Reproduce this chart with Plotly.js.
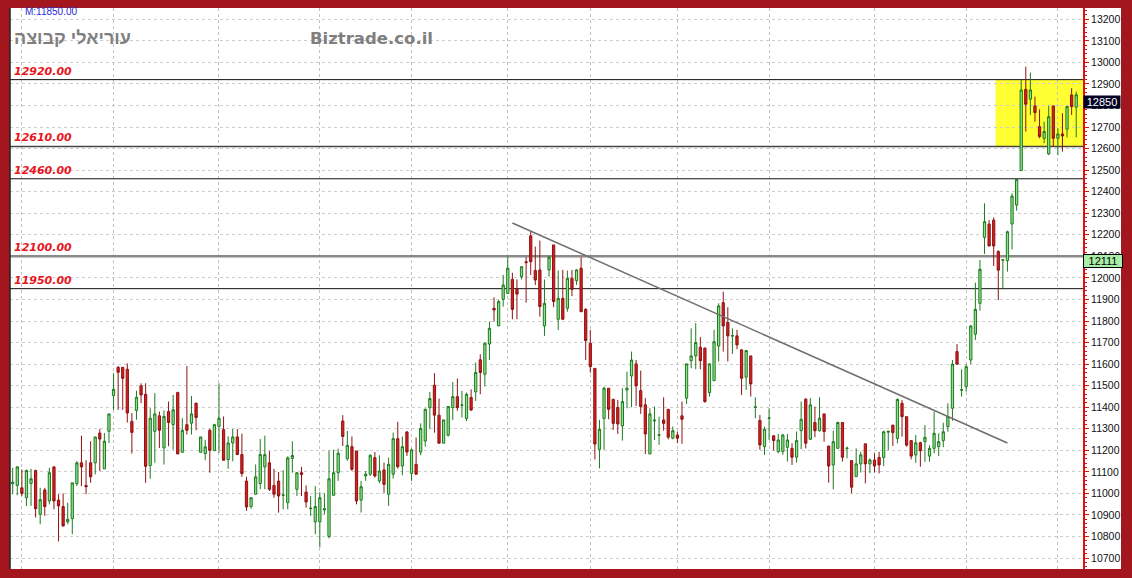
<!DOCTYPE html>
<html><head><meta charset="utf-8">
<script src="https://cdn.plot.ly/plotly-3.0.1.min.js"></script>
<style>html,body{margin:0;padding:0;background:#a3161d;} #chart{width:1132px;height:578px;}</style>
</head><body><div id="chart"></div>
<script>
// ---- DATA ----
const openP = [11045,11037,11026,10980,11046,11106,10903,11016,10965,11123,10969,10939,10868,10883,11045,11142,11037,11142,11142,11280,
11114,11288,11454,11585,11585,11576,11334,11385,11499,11460,11129,11288,11360,11211,11380,11319,11468,11191,11319,11326,
11419,11191,11185,11293,11199,11311,11296,11157,11234,11262,11180,11057,10939,10996,11046,11123,11142,11037,11057,10991,
10957,11162,11019,11096,11006,10929,10868,10868,10923,10800,10991,11096,11336,11161,11217,11197,10969,11081,11089,11166,
11058,11109,10996,11089,11254,11127,11285,11093,11135,11192,11243,11398,11502,11363,11233,11270,11398,11449,11409,11347,
11445,11471,11620,11553,11693,11859,11777,11901,11928,11993,11947,12006,12075,12195,12034,12037,11777,12037,12153,11808,
11905,11859,11998,11987,12045,11854,11697,11580,11205,11348,11488,11437,11399,11313,11480,11545,11601,11477,11411,11183,
11336,11270,11341,11390,11256,11271,11360,11442,11616,11638,11678,11674,11468,11523,11684,11885,11793,11730,11731,11666,
11539,11638,11399,11338,11217,11348,11267,11194,11194,11214,11209,11168,11291,11437,11251,11329,11291,11369,11220,11132,
11209,11329,11208,11152,11078,11137,11230,11137,11155,11167,11167,11284,11317,11255,11418,11356,11245,11178,11235,11240,
11173,11209,11217,11245,11310,11395,11658,11479,11495,11619,11739,11882,12188,12250,12268,12122,12082,12080,12250,12338,
12498,12875,12829,12798,12702,12648,12575,12798,12648,12668,12690,12849,12792];
const highP = [11119,11126,11111,11111,11114,11110,11026,11026,11119,11126,10996,11000,10957,11049,11149,11268,11154,11242,11262,11299,
11280,11369,11557,11591,11585,11603,11373,11477,11511,11511,11395,11465,11380,11385,11426,11457,11472,11349,11591,11452,
11419,11262,11249,11299,11323,11511,11357,11265,11299,11299,11277,11077,10980,11134,11252,11268,11196,11114,11099,11108,
11172,11242,11096,11123,11037,10988,11034,11006,11000,11199,11203,11208,11363,11290,11264,11197,11058,11104,11181,11192,
11177,11143,11166,11282,11332,11264,11290,11208,11259,11325,11394,11471,11558,11440,11341,11403,11517,11533,11476,11468,
11483,11607,11646,11700,11797,11910,11898,12014,12099,12024,11993,12052,12096,12215,12145,12173,11993,12102,12153,12034,
12037,12034,12037,12040,12096,11859,11758,11580,11341,11495,11488,11437,11434,11488,11565,11658,11619,11570,11442,11395,
11403,11356,11446,11390,11310,11287,11426,11601,11766,11790,11725,11678,11604,11759,11882,11936,11864,11766,11759,11669,
11663,11638,11446,11364,11310,11395,11271,11276,11276,11276,11233,11287,11426,11442,11442,11403,11446,11369,11220,11291,
11333,11329,11217,11155,11209,11194,11230,11163,11186,11193,11291,11291,11317,11441,11433,11356,11245,11271,11240,11317,
11224,11379,11279,11328,11418,11619,11693,11576,11600,11781,11978,12083,12346,12268,12281,12129,12086,12219,12392,12462,
12920,12980,12953,12841,12782,12725,12798,12798,12694,12764,12798,12880,12864];
const lowP = [10996,10991,10988,10942,10942,10888,10857,10896,10949,10926,10777,10846,10857,10811,11034,11034,10996,11049,11088,11103,
11114,11234,11388,11388,11388,11329,11185,11342,11419,11049,11068,11142,11211,11134,11219,11203,11183,11191,11273,11273,
11293,11191,11154,11096,11196,11188,11154,11114,11149,11180,11077,10919,10929,10996,11019,11019,11011,10980,10911,10926,
10926,11096,10988,10988,10934,10896,10811,10749,10903,10791,10991,11058,11220,11151,11104,10949,10911,11058,11081,11073,
11047,11003,10942,11069,11115,11084,11174,11058,11089,11177,11217,11298,11282,11233,11233,11264,11341,11383,11352,11336,
11383,11429,11460,11496,11619,11797,11777,11867,11928,11808,11808,11993,11885,12014,11967,11820,11731,12006,11864,11758,
11808,11843,11916,11967,11843,11619,11560,11158,11116,11202,11344,11294,11276,11245,11395,11400,11406,11369,11183,11183,
11248,11225,11291,11251,11251,11233,11230,11415,11581,11576,11576,11421,11449,11523,11612,11658,11612,11647,11669,11457,
11480,11449,11349,11202,11179,11248,11199,11186,11179,11148,11132,11143,11205,11209,11248,11261,11287,11240,11050,11019,
11209,11148,11163,11001,11078,11097,11047,11094,11097,11093,11127,11201,11220,11232,11263,11217,11158,11142,11124,11147,
11147,11186,11173,11214,11286,11337,11596,11449,11472,11600,11712,11848,12111,12148,12055,11897,11947,12029,12132,12312,
12498,12679,12756,12725,12648,12625,12570,12609,12570,12586,12652,12756,12652];
const closeP = [11052,11123,11000,11106,11068,10929,10971,10939,11096,10965,10942,10849,10880,11049,11142,11123,11031,11077,11262,11252,
11242,11369,11483,11562,11534,11373,11283,11446,11457,11126,11349,11369,11293,11357,11329,11388,11183,11293,11293,11369,
11352,11262,11216,11200,11319,11349,11154,11234,11262,11180,11092,10937,10980,11077,11180,11180,11019,10996,10988,10993,
11165,11176,11096,11088,10960,10931,10939,10980,10929,11068,11096,11186,11264,11223,11112,10965,11031,11089,11177,11081,
11104,11042,11135,11254,11124,11217,11192,11202,11089,11301,11390,11440,11363,11233,11341,11403,11449,11398,11410,11460,
11387,11561,11561,11697,11766,11851,11890,11967,12045,11854,11925,12052,12071,12075,11990,11867,11882,12096,11890,11905,
11808,11998,11947,12037,11843,11709,11588,11229,11297,11488,11390,11325,11322,11426,11488,11619,11499,11403,11276,11369,
11340,11272,11325,11261,11291,11256,11344,11601,11638,11700,11616,11426,11601,11704,11870,11777,11731,11732,11689,11534,
11663,11508,11401,11225,11298,11350,11245,11248,11271,11248,11168,11245,11344,11233,11411,11291,11349,11287,11127,11240,
11329,11168,11210,11029,11137,11179,11137,11155,11127,11132,11286,11288,11282,11436,11356,11224,11173,11235,11198,11260,
11209,11279,11240,11286,11356,11600,11600,11481,11588,11777,11854,12040,12261,12148,12148,12036,12084,12214,12380,12457,
12872,12806,12872,12767,12656,12679,12748,12648,12668,12659,12795,12795,12850];
const levels = [12920, 12610, 12460, 12100, 11950];
const monthStartIdx = [2, 22, 45, 67, 87, 108, 126, 145, 165, 188, 208, 228];
const trendIdx = [109, 217];
const trendVal = [12255, 11234];
const zoneStartIdx = 214.4;
const zoneBounds = [12610, 12920];
const maValue = 12111;
const maxLabel = 'M:11850.00';
const titleHebrew = 'עוריאלי קבוצה';
const titleSite = 'Biztrade.co.il';

// ---- CHART ----
const idx = openP.map((_, i) => i);
const n = idx.length;

const trace = {
  type: 'candlestick', x: idx, open: openP, high: highP, low: lowP, close: closeP,
  increasing: {line: {color: '#1f7a1f', width: 1}, fillcolor: '#8ee48e'},
  decreasing: {line: {color: '#8e1212', width: 1}, fillcolor: '#d81e1e'},
  whiskerwidth: 0, hoverinfo: 'skip'
};

const levelColors = ['#111111', '#444444', '#111111', '#8a8a8a', '#111111'];
const levelWidths = [1, 1.5, 1, 2.5, 1];

const shapes = [
  {type: 'rect', xref: 'paper', yref: 'paper', x0: 1, x1: 1.0354, y0: 0, y1: 1,
   fillcolor: '#ffffff', line: {width: 0}, layer: 'below'},
  {type: 'rect', xref: 'x', yref: 'y', x0: zoneStartIdx, x1: n + 5, y0: zoneBounds[0], y1: zoneBounds[1],
   fillcolor: '#ffff33', line: {width: 0}, layer: 'below'},
  {type: 'line', xref: 'paper', yref: 'paper', x0: 0, x1: 0, y0: 0, y1: 1,
   line: {color: '#222222', width: 1.5}}
];
levels.forEach((lv, i) => {
  shapes.push({type: 'line', xref: 'x', yref: 'y', x0: -5, x1: n + 5, y0: lv, y1: lv,
    line: {color: levelColors[i], width: levelWidths[i]}, layer: 'between'});
});
shapes.push({type: 'line', xref: 'x', yref: 'y', x0: trendIdx[0], y0: trendVal[0], x1: trendIdx[1], y1: trendVal[1],
  line: {color: '#6e6e6e', width: 1.5}});

const annotations = levels.map(lv => ({
  xref: 'paper', x: 0.002, xanchor: 'left', yref: 'y', y: lv, yanchor: 'bottom', yshift: 0,
  text: lv.toFixed(2), showarrow: false,
  font: {family: 'DejaVu Sans, Verdana, sans-serif', size: 11, color: '#e8141b', weight: 'bold', style: 'italic'}
}));
annotations.push(
  {xref: 'paper', x: 0.0125, xanchor: 'left', yref: 'paper', y: (569 - 12) / 561, yanchor: 'middle',
   text: maxLabel, showarrow: false, font: {family: 'Liberation Sans, Arial', size: 10, color: '#2b2bd6'}},
  {xref: 'paper', x: 0.0019, xanchor: 'left', yref: 'paper', y: (569 - 38) / 561, yanchor: 'middle',
   text: titleHebrew, showarrow: false, font: {family: 'Liberation Sans, DejaVu Sans, Arial', size: 18, color: '#7f7f7f', weight: 'bold'}},
  {xref: 'paper', x: (308 - 10) / 1073, xanchor: 'left', yref: 'paper', y: (569 - 38) / 561, yanchor: 'middle',
   text: titleSite, showarrow: false, font: {family: 'DejaVu Sans, Verdana, sans-serif', size: 16.5, color: '#7f7f7f', weight: 'bold'}},
  {xref: 'paper', x: 1, xanchor: 'left', xshift: 0, yref: 'y', y: closeP[n - 1], yanchor: 'top',
   text: String(closeP[n - 1]), showarrow: false, bgcolor: '#000020', borderpad: 0, width: 36,
   font: {family: 'Liberation Sans, Arial', size: 11, color: '#ffffff'}},
  {xref: 'paper', x: 1, xanchor: 'left', xshift: 0, yref: 'y', y: maValue, yanchor: 'top',
   text: String(maValue), showarrow: false, bgcolor: '#a8eea8', bordercolor: '#000000', borderwidth: 1, borderpad: 0, width: 38,
   font: {family: 'Liberation Sans, Arial', size: 11, color: '#000000'}}
);

const layout = {
  width: 1132, height: 578,
  margin: {l: 10, r: 49, t: 8, b: 9},
  paper_bgcolor: '#a3161d', plot_bgcolor: '#ffffff',
  showlegend: false,
  xaxis: {type: 'linear', range: [-0.589, 233.48], rangeslider: {visible: false},
    tickvals: monthStartIdx, showticklabels: false, ticks: '',
    showgrid: true, gridcolor: '#c2c2c2', griddash: 'dot', gridwidth: 1,
    zeroline: false, showline: false, fixedrange: true},
  yaxis: {side: 'right', range: [10649.2, 13252.4], tick0: 0, dtick: 100, tickformat: 'd',
    showgrid: true, gridcolor: '#cdcdcd', griddash: 'dot', gridwidth: 1,
    ticks: 'outside', ticklen: 4, tickcolor: '#e01010', tickwidth: 1,
    tickfont: {family: 'Liberation Sans, Arial', size: 10.5, color: '#111111'},
    showline: true, linecolor: '#e01010', linewidth: 2, zeroline: false, fixedrange: true,
    minor: {dtick: 20, ticks: 'outside', ticklen: 2, tickcolor: '#e01010', showgrid: false}},
  shapes: shapes,
  annotations: annotations
};

Plotly.newPlot('chart', [trace], layout, {displayModeBar: false, staticPlot: true});
</script>
</body></html>
